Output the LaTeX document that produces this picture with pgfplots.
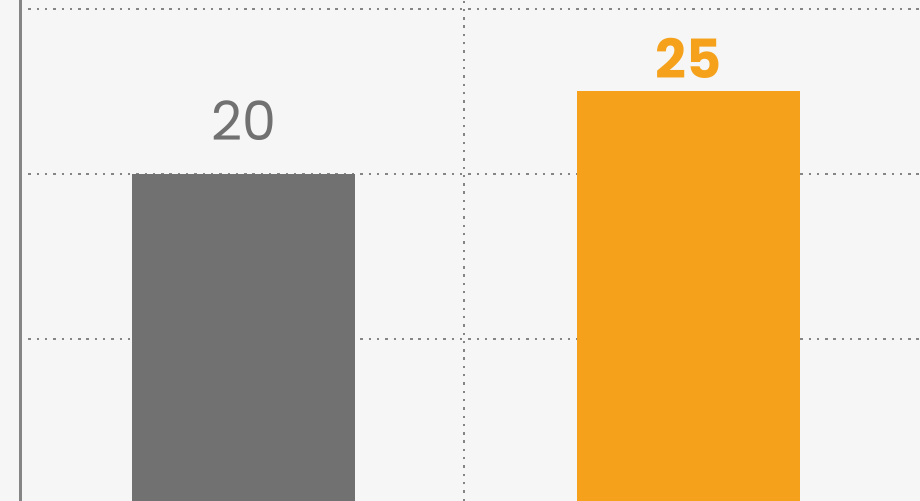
\documentclass[border=0pt]{standalone}
\usepackage{pgfplots}
\pgfplotsset{compat=1.18}
\usepackage{fontspec}
\setmainfont{Poppins}
\definecolor{bg}{HTML}{F6F6F6}
\definecolor{gridc}{HTML}{858585}
\definecolor{barGray}{HTML}{717172}
\definecolor{barOrange}{HTML}{F5A11C}
\begin{document}
\begin{tikzpicture}
\fill[bg] (-10pt,0) rectangle (450pt,250.5pt);
\begin{axis}[
  at={(0,0)}, anchor=south west,
  scale only axis, width=450pt, height=250.5pt,
  xmin=-0.5022, xmax=1.5202, ymin=0.19, ymax=30.53,
  axis x line*=bottom, x axis line style={draw=none},
  axis y line*=left, y axis line style={-, draw=gridc, line width=1.5pt},
  ytick={10,20,30}, yticklabels={},
  xtick=\empty,
  extra x ticks={0.4955}, extra x tick labels={},
  extra x tick style={grid=major},
  major tick length=0pt,
  tick style={draw=none},
  ymajorgrids,
  grid style={draw=gridc, line width=1.2pt, dash pattern=on 1.2pt off 2.95pt},
  ybar, bar width=111.5pt,
  /pgf/number format/assume math mode=true,
]
\addplot[fill=barGray, draw=none, bar shift=0pt,
  nodes near coords,
  nodes near coords style={text=barGray, font=\fontsize{27}{27}\selectfont, anchor=south, inner sep=0pt, yshift=16.5pt}]
  coordinates {(0,20)};
\addplot[fill=barOrange, draw=none, bar shift=0pt,
  nodes near coords,
  nodes near coords style={text=barOrange, font=\fontsize{27}{27}\selectfont\bfseries, anchor=south, inner sep=0pt, yshift=6pt}]
  coordinates {(1,25)};
\end{axis}
\pgfresetboundingbox
\path[use as bounding box] (-10pt,0) rectangle (450pt,250.5pt);
\end{tikzpicture}
\end{document}
